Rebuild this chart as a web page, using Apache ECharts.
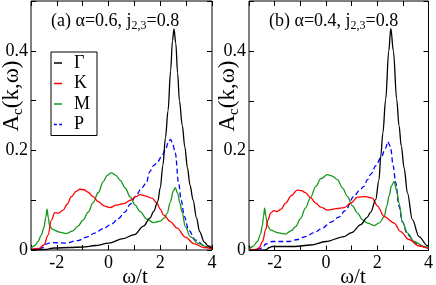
<!DOCTYPE html>
<html><head><meta charset="utf-8">
<script src="https://cdn.jsdelivr.net/npm/echarts@6/dist/echarts.min.js"></script>
<style>html,body{margin:0;padding:0;background:#fff}#c{width:436px;height:285px}</style>
</head><body><div id="c"></div>
<script>
// ---- data ----
const seriesNames = ['Γ', 'K', 'M', 'P'];
const xTicks = [-2, 0, 2, 4];
const yTicks = [0, 0.2, 0.4];
const titleA = ['(a) α=0.6, j', '2,3', '=0.8'];
const titleB = ['(b) α=0.4, j', '2,3', '=0.8'];

const gammaA = [[-3,0],[-2.4,0.001],[-2.25,0.003],[-2.1,0.004],[-1.5,0.005],[-1.0,0.006],[-0.5,0.009],[0,0.014],[0.57,0.023],[1.0,0.031],[1.35,0.048],[1.6,0.064],[1.75,0.078],[1.9,0.097],[2.0,0.125],[2.1,0.17],[2.2,0.225],[2.3,0.28],[2.4,0.36],[2.47,0.42],[2.53,0.444],[2.6,0.415],[2.67,0.355],[2.74,0.30],[2.85,0.25],[2.95,0.207],[3.05,0.165],[3.15,0.13],[3.27,0.1],[3.4,0.065],[3.52,0.037],[3.7,0.016],[3.86,0.008],[4.0,0.004]];
const kA = [[-3,0.001],[-2.7,0.003],[-2.5,0.01],[-2.34,0.03],[-2.21,0.06],[-2.08,0.075],[-1.95,0.074],[-1.76,0.08],[-1.6,0.092],[-1.44,0.107],[-1.25,0.118],[-1.11,0.122],[-0.95,0.121],[-0.79,0.116],[-0.6,0.107],[-0.4,0.097],[-0.15,0.088],[0.06,0.085],[0.3,0.09],[0.58,0.093],[0.85,0.1],[1.05,0.107],[1.22,0.111],[1.45,0.108],[1.68,0.104],[1.87,0.094],[2.0,0.082],[2.13,0.07],[2.39,0.057],[2.65,0.044],[2.97,0.026],[3.29,0.013],[3.68,0.005],[4.0,0.003]];
const mA = [[-3,0.004],[-2.85,0.009],[-2.73,0.017],[-2.6,0.03],[-2.5,0.045],[-2.43,0.065],[-2.38,0.082],[-2.33,0.065],[-2.28,0.048],[-2.15,0.041],[-1.9,0.036],[-1.63,0.033],[-1.4,0.038],[-1.18,0.048],[-0.99,0.06],[-0.79,0.076],[-0.6,0.095],[-0.4,0.115],[-0.2,0.138],[-0.05,0.15],[0.11,0.155],[0.28,0.15],[0.45,0.14],[0.65,0.124],[0.84,0.106],[1.03,0.09],[1.22,0.077],[1.48,0.062],[1.74,0.055],[2.0,0.058],[2.15,0.064],[2.26,0.073],[2.39,0.096],[2.5,0.118],[2.58,0.125],[2.67,0.114],[2.76,0.094],[2.84,0.076],[2.97,0.047],[3.16,0.027],[3.48,0.013],[3.87,0.005],[4.0,0.004]];
const pA = [[-3,0.001],[-2.7,0.002],[-2.53,0.005],[-2.41,0.012],[-2.21,0.015],[-1.69,0.014],[-1.18,0.019],[-0.85,0.026],[-0.53,0.034],[-0.2,0.043],[0.11,0.052],[0.38,0.063],[0.63,0.076],[0.84,0.092],[1.05,0.108],[1.25,0.122],[1.45,0.134],[1.6,0.158],[1.75,0.17],[1.9,0.177],[2.05,0.188],[2.2,0.201],[2.32,0.218],[2.4,0.222],[2.48,0.213],[2.58,0.195],[2.71,0.134],[2.81,0.1],[2.93,0.067],[3.1,0.04],[3.36,0.02],[3.74,0.007],[4.0,0.003]];

const gammaB = [[-3,0],[-2.35,0.001],[-2.2,0.006],[-2.1,0.008],[-1.2,0.008],[-0.6,0.011],[0,0.018],[0.71,0.028],[1.0,0.036],[1.36,0.052],[1.6,0.066],[1.75,0.077],[1.94,0.102],[2.07,0.142],[2.14,0.19],[2.22,0.235],[2.33,0.303],[2.45,0.4],[2.53,0.445],[2.63,0.4],[2.76,0.303],[2.85,0.25],[2.94,0.209],[3.05,0.165],[3.18,0.115],[3.37,0.062],[3.63,0.028],[3.95,0.01],[4.0,0.009]];
const kB = [[-3,0.001],[-2.75,0.002],[-2.61,0.005],[-2.47,0.018],[-2.35,0.042],[-2.25,0.062],[-2.16,0.075],[-2.03,0.08],[-1.9,0.078],[-1.75,0.083],[-1.57,0.095],[-1.35,0.11],[-1.12,0.121],[-0.95,0.12],[-0.8,0.116],[-0.6,0.106],[-0.4,0.095],[-0.2,0.087],[0.06,0.081],[0.4,0.084],[0.71,0.086],[0.97,0.095],[1.23,0.107],[1.55,0.108],[1.81,0.105],[2.01,0.089],[2.27,0.068],[2.66,0.055],[2.91,0.038],[3.24,0.022],[3.63,0.009],[4.0,0.004]];
const mB = [[-3,0.002],[-2.85,0.008],[-2.67,0.018],[-2.55,0.033],[-2.48,0.05],[-2.43,0.07],[-2.39,0.085],[-2.34,0.068],[-2.28,0.05],[-2.16,0.041],[-1.9,0.036],[-1.57,0.033],[-1.35,0.04],[-1.18,0.048],[-0.99,0.064],[-0.8,0.085],[-0.6,0.106],[-0.4,0.128],[-0.2,0.144],[0.06,0.152],[0.25,0.149],[0.45,0.142],[0.65,0.125],[0.84,0.108],[1.03,0.09],[1.23,0.075],[1.42,0.062],[1.62,0.055],[1.88,0.05],[2.1,0.056],[2.27,0.068],[2.38,0.09],[2.46,0.109],[2.56,0.13],[2.66,0.138],[2.76,0.12],[2.85,0.095],[2.98,0.058],[3.18,0.035],[3.44,0.018],[3.82,0.008],[4.0,0.006]];
const pB = [[-3,0.001],[-2.7,0.002],[-2.48,0.005],[-2.35,0.013],[-2.09,0.018],[-1.44,0.018],[-1.1,0.022],[-0.79,0.028],[-0.45,0.036],[-0.14,0.045],[0.2,0.057],[0.5,0.067],[0.75,0.08],[1.1,0.109],[1.3,0.12],[1.49,0.129],[1.62,0.142],[1.75,0.153],[1.95,0.17],[2.14,0.186],[2.33,0.205],[2.41,0.218],[2.47,0.213],[2.53,0.203],[2.62,0.17],[2.72,0.136],[2.85,0.089],[2.98,0.058],[3.18,0.032],[3.5,0.015],[3.89,0.006],[4.0,0.005]];

const panelData = [[gammaA, kA, mA, pA], [gammaB, kB, mB, pB]];
const colors = ['#000000', '#ff0000', '#16961a', '#0000ff'];

// ---- chart ----
const FONT = '"Liberation Serif", "DejaVu Serif", serif';
const grids = [
  {left: 31, top: 1, width: 181, height: 249},
  {left: 249, top: 1, width: 180.5, height: 249.5}
];
const xAxes = [], yAxes = [], series = [];
grids.forEach((g, gi) => {
  g.show = true; g.borderColor = '#000'; g.borderWidth = 1; g.backgroundColor = 'transparent';
  ['bottom', 'top'].forEach(pos => {
    xAxes.push({
      type: 'value', gridIndex: gi, position: pos, min: -3, max: 4, interval: 1,
      axisLine: {show: false, onZero: false}, splitLine: {show: false},
      axisTick: {show: true, inside: true, length: 5, lineStyle: {color: '#000', width: 1}},
      axisLabel: {show: pos === 'bottom', margin: 4, color: '#000', fontFamily: FONT, fontSize: 18,
        formatter: v => (xTicks.indexOf(Math.round(v)) >= 0 ? String(Math.round(v)) : '')}
    });
  });
  ['left', 'right'].forEach(pos => {
    yAxes.push({
      type: 'value', gridIndex: gi, position: pos, min: 0, max: 0.5, interval: 0.1,
      axisLine: {show: false, onZero: false}, splitLine: {show: false},
      axisTick: {show: true, inside: true, length: 5, lineStyle: {color: '#000', width: 1}},
      axisLabel: {show: pos === 'left', margin: 3, color: '#000', fontFamily: FONT, fontSize: 18,
        formatter: v => { const r = Math.round(v * 10) / 10; return yTicks.indexOf(r) >= 0 ? (r === 0 ? '0' : r.toFixed(1)) : ''; }}
    });
  });
  panelData[gi].forEach((d, si) => {
    series.push({
      name: seriesNames[si], type: 'line', xAxisIndex: gi * 2, yAxisIndex: gi * 2,
      data: d, symbol: 'none', smooth: 0.35, smoothMonotone: 'x', clip: true,
      lineStyle: {color: colors[si], width: 1.3, type: si === 3 ? [5, 3] : 'solid'},
      itemStyle: {color: colors[si]}, z: 10 - si
    });
  });
});

const solidIcon = 'path://M0,0h0.01v0.01h-0.01z M0,6.2h10v1.6h-10z M9.99,13.99h0.01v0.01h-0.01z';
const dashIcon = 'path://M0,0h0.01v0.01h-0.01z M0,6.2h3.6v1.6h-3.6z M6.4,6.2h3.6v1.6h-3.6z M9.99,13.99h0.01v0.01h-0.01z';

function titleText(parts, x) {
  return {type: 'text', left: x, top: 10, z: 100, style: {
    text: '{n|' + parts[0] + '}{s|' + parts[1] + '}{n|' + parts[2] + '}',
    rich: {n: {fontFamily: FONT, fontSize: 18, fill: '#000', lineHeight: 22},
           s: {fontFamily: FONT, fontSize: 12, fill: '#000', padding: [10, 0, 0, 0], lineHeight: 22}}
  }};
}
function yName(cx, cy) {
  return {type: 'text', x: cx, y: cy, rotation: Math.PI / 2, z: 100, style: {
    text: '{n|A}{s|c}{n|(k,ω)}', align: 'center', verticalAlign: 'middle',
    rich: {n: {fontFamily: FONT, fontSize: 23, fill: '#000', lineHeight: 26},
           s: {fontFamily: FONT, fontSize: 15, fill: '#000', padding: [12, 0, 0, 0], lineHeight: 26}}
  }};
}
function xName(cx, cy) {
  return {type: 'text', x: cx, y: cy, z: 100, style: {
    text: 'ω/t', align: 'center', verticalAlign: 'middle', fontFamily: FONT, fontSize: 21, fill: '#000'
  }};
}

const option = {
  animation: false,
  grid: grids, xAxis: xAxes, yAxis: yAxes, series: series,
  legend: {
    show: true, orient: 'vertical', left: 51, top: 52,
    data: seriesNames.map((n, i) => ({name: n, icon: i === 3 ? dashIcon : solidIcon, itemStyle: {color: colors[i]}})),
    itemWidth: 8, itemHeight: 14, itemGap: 2.5,
    padding: [2, 7, 2, 3], borderColor: '#000', borderWidth: 1, borderRadius: 0, backgroundColor: '#fff',
    textStyle: {fontFamily: FONT, fontSize: 18, color: '#000', lineHeight: 15, padding: [0, 0, 0, 7]},
    selectedMode: false
  },
  graphic: [titleText(titleA, 51), titleText(titleB, 269), yName(12, 96), yName(228, 96), xName(135, 277), xName(353, 277)]
};
const chart = echarts.init(document.getElementById('c'), null, {renderer: 'canvas'});
chart.setOption(option);
</script></body></html>
